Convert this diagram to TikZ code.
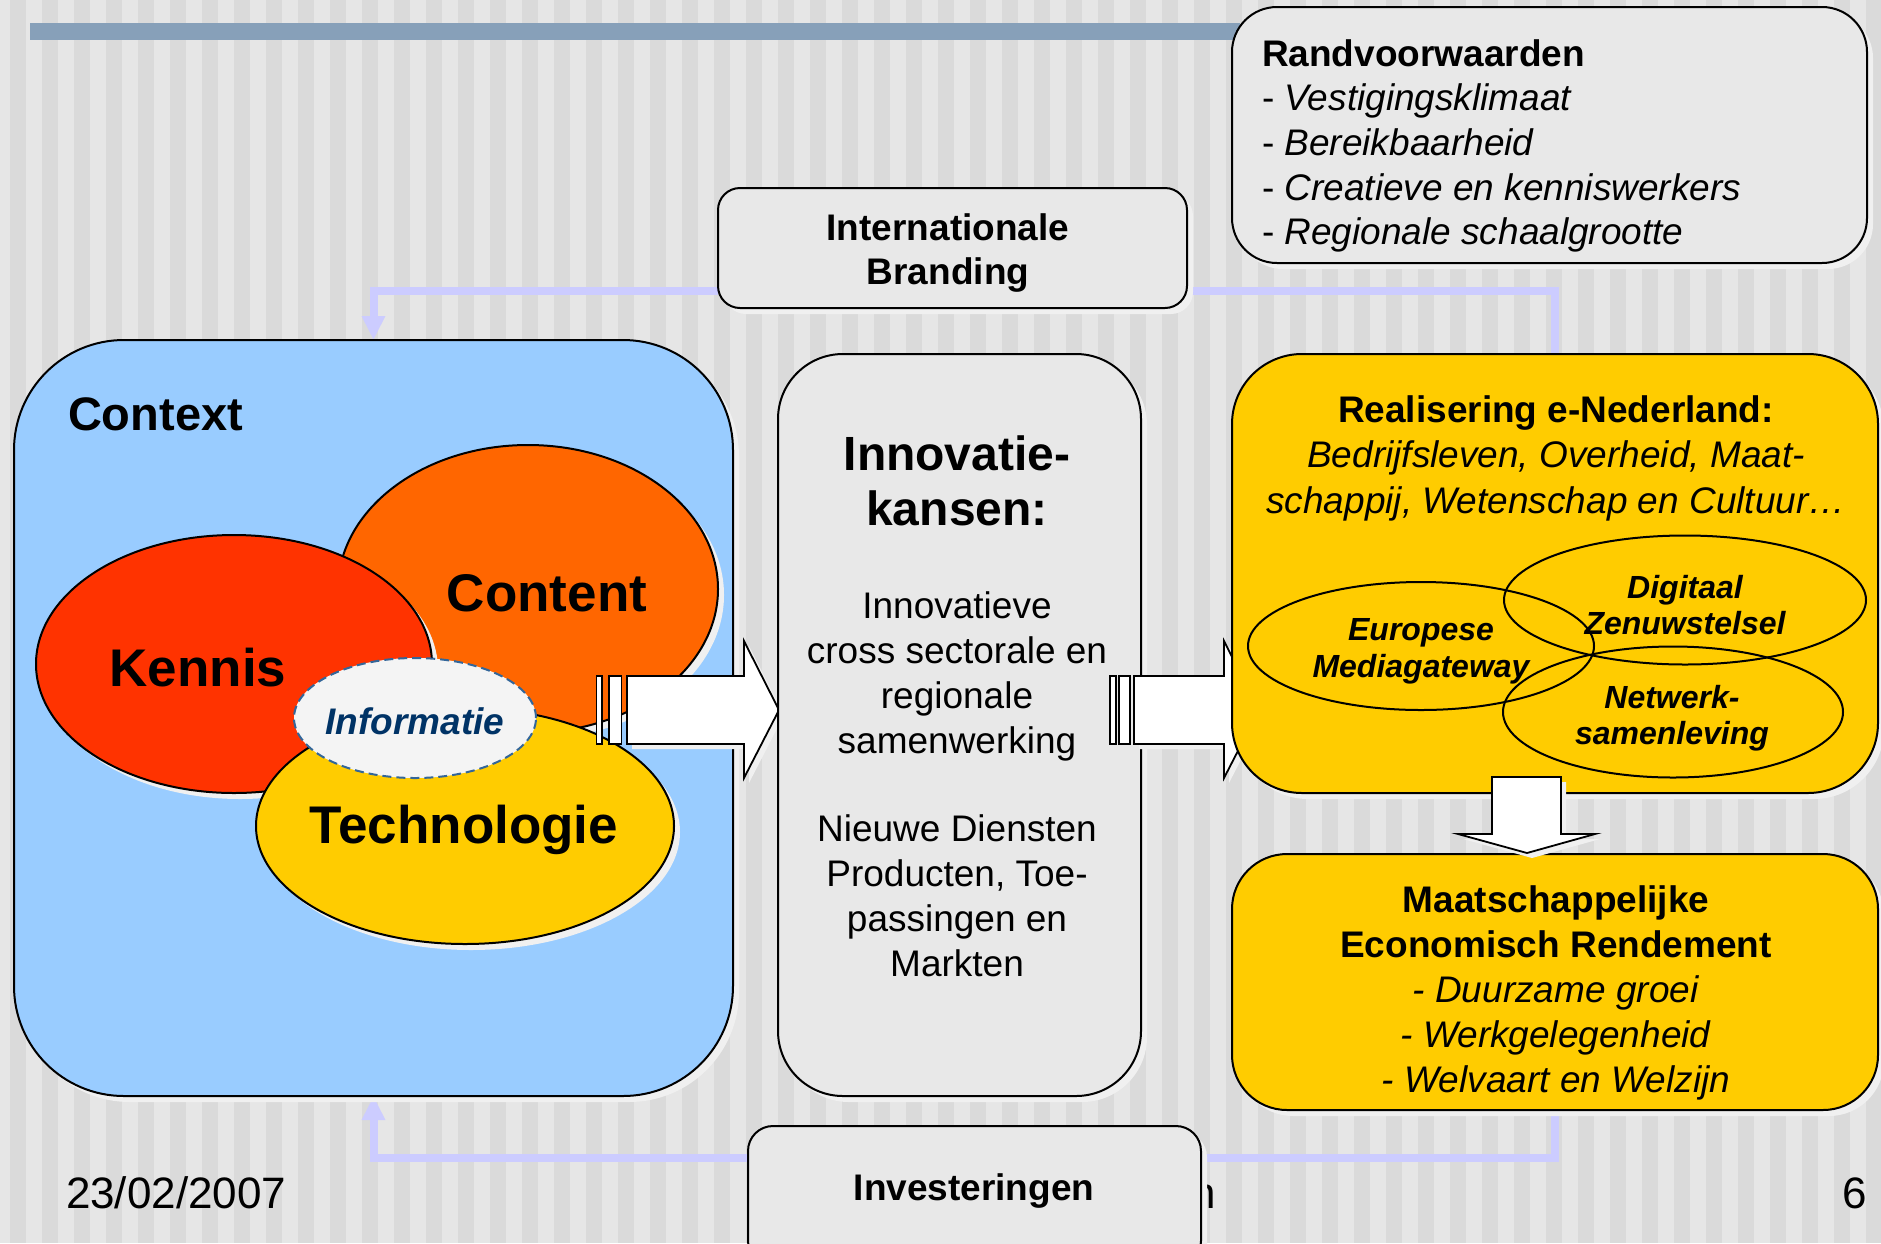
\documentclass[tikz,border=0pt]{standalone}
\usepackage{fontspec}
\setmainfont{Liberation Sans}
\usetikzlibrary{shapes.geometric,shadows,arrows.meta}
\definecolor{bgA}{HTML}{E6E6E6}
\definecolor{bgB}{HTML}{DADADA}
\definecolor{barblue}{HTML}{87A0B9}
\definecolor{boxgray}{HTML}{E8E8E8}
\definecolor{ctxblue}{HTML}{99CCFF}
\definecolor{gold}{HTML}{FFCC00}
\definecolor{orangeC}{HTML}{FF6600}
\definecolor{redK}{HTML}{FF3300}
\definecolor{lav}{HTML}{CCCCFF}
\definecolor{infoblue}{HTML}{003366}
\definecolor{dashblue}{HTML}{336699}
\definecolor{infofill}{HTML}{F4F4F4}
\definecolor{shadowc}{HTML}{F0F0F0}
\newcommand\fs[2]{\fontsize{#1}{#2}\selectfont}
\pgfdeclarelayer{bglayer}
\pgfdeclarelayer{connlayer}
\pgfsetlayers{bglayer,connlayer,main}
\begin{document}
\begin{tikzpicture}[x=1pt,y=-1pt,
  every node/.style={inner sep=0pt, outer sep=0pt},
  box/.style={draw=black, line width=2pt, rectangle},
  shad/.style={drop shadow={shadow xshift=6pt, shadow yshift=-6pt, fill=shadowc, opacity=1}},
  ell/.style={ellipse, draw=black, line width=2pt},
  conn/.style={draw=lav, line width=8pt},
  conntip/.style={-{Triangle[width=22pt,length=24pt,fill=lav]}},
  barrow/.style={draw=black, line width=1.8pt, fill=white, line join=miter},
  ashad/.style={drop shadow={shadow xshift=5pt, shadow yshift=-5pt, fill=shadowc, opacity=1}},
  txt/.style={align=center, text=black}]
\useasboundingbox (0,0) rectangle (1881,1243);
\begin{pgfonlayer}{bglayer}
\fill[bgA] (0,0) rectangle (1881,1243);
\foreach \i in {0,...,58} \fill[bgB] ({\i*32+10},0) rectangle ({\i*32+26},1243);
\fill[barblue] (30,23) rectangle (1240,40);
\end{pgfonlayer}
\coordinate (bt) at (0,291);
\coordinate (bb) at (0,1158);
% boxes
\node[box, shad, fill=boxgray, rounded corners=45pt, minimum width=635pt, minimum height=256pt] (rand) at (1549.5,135) {};
\node[box, shad, fill=boxgray, rounded corners=22pt, minimum width=469pt, minimum height=120pt] (brand) at (952.5,248) {};
\node[box, shad, fill=ctxblue, rounded corners=110pt, minimum width=719pt, minimum height=756pt] (ctx) at (373.5,718) {};
\node[anchor=west, align=left, font=\fs{37}{44.7}] (randtxt) at (1262,146) {\textbf{Randvoorwaarden}\\- \textit{Vestigingsklimaat}\\- \textit{Bereikbaarheid}\\- \textit{Creatieve en kenniswerkers}\\- \textit{Regionale schaalgrootte}};
\node[txt, font=\bfseries\fs{37}{44}] (brandtxt) at (948,253) {Internationale\\Branding};
% context
\node[anchor=west, font=\bfseries\fs{47}{54}] (ctxtxt) at (68,414) {Context};
\node[ell, shad, fill=orangeC, minimum width=380pt, minimum height=288pt] (content) at (528,589) {};
\node[ell, shad, fill=redK, minimum width=396pt, minimum height=258pt] (kennis) at (234,664) {};
\node[ell, shad, fill=gold, minimum width=418pt, minimum height=236pt] (tech) at (465,826) {};
\node[ell, fill=infofill, draw=dashblue, dash pattern=on 9pt off 5pt, minimum width=242pt, minimum height=120pt] (info) at (415,718) {};
\node[font=\bfseries\fs{53}{60}] (kennisL) at (198,668) {Kennis};
\node[font=\bfseries\fs{53}{60}] (contentL) at (547,593) {Content};
\node[font=\bfseries\fs{53}{60}] (techL) at (464,830) {Technologie};
\node[font=\bfseries\itshape\fs{37}{44}, text=infoblue] (infoL) at (415,721) {Informatie};
% block arrow 1
\draw[barrow, ashad] (627,676) -- (744,676) -- (744,641) -- (779,710) -- (744,778) -- (744,744) -- (627,744) -- cycle;
\draw[barrow] (596.5,676) rectangle (602,744);
\draw[barrow] (609,676) rectangle (621.5,744);
% innovatie
\node[box, shad, fill=boxgray, rounded corners=65pt, minimum width=363pt, minimum height=742pt] (inno) at (959.5,725) {};
\node[txt, font=\bfseries\fs{48}{55}] (innotitle) at (957,481) {Innovatie-\\kansen:};
\node[txt, font=\fs{37}{45}] (innob1) at (957,676) {Innovatieve\\cross sectorale en\\regionale\\samenwerking};
\node[txt, font=\fs{37}{45}] (innob2) at (957,896) {Nieuwe Diensten\\Producten, Toe-\\passingen en\\Markten};
% block arrow 2
\draw[barrow, ashad] (1134,676) -- (1224,676) -- (1224,641) -- (1259,710) -- (1224,778) -- (1224,744) -- (1134,744) -- cycle;
\draw[barrow] (1110,676) rectangle (1116,744);
\draw[barrow] (1119,676) rectangle (1130,744);
% realisering
\node[box, shad, fill=gold, rounded corners=70pt, minimum width=646pt, minimum height=439pt] (real) at (1555,573.5) {};
\node[txt, font=\fs{37}{45.5}] (realtxt) at (1556,458) {\textbf{Realisering e-Nederland:}\\\textit{Bedrijfsleven, Overheid, Maat-}\\\textit{schappij, Wetenschap en Cultuur…}};
\node[ell, minimum width=346pt, minimum height=128pt] (euro) at (1421,646) {};
\node[ell, minimum width=362pt, minimum height=129pt] (digi) at (1685,600) {};
\node[ell, minimum width=340pt, minimum height=131pt] (netw) at (1673,712) {};
\node[txt, font=\bfseries\itshape\fs{32}{37}] (eurotxt) at (1421,651) {Europese\\Mediagateway};
\node[txt, font=\bfseries\itshape\fs{32}{36}] (digitxt) at (1685,605) {Digitaal\\Zenuwstelsel};
\node[txt, font=\bfseries\itshape\fs{32}{36}] (netwtxt) at (1672,718) {Netwerk-\\samenleving};
% maatschappelijke
\node[box, shad, fill=gold, rounded corners=55pt, minimum width=646pt, minimum height=256pt] (maat) at (1555,982) {};
\node[txt, font=\fs{37}{45}] (maattxt) at (1556,993) {\textbf{Maatschappelijke}\\\textbf{Economisch Rendement}\\\textit{- Duurzame groei}\\\textit{- Werkgelegenheid}\\\textit{- Welvaart en Welzijn}};
% down arrow
\draw[barrow, ashad] (1492,777) -- (1561,777) -- (1561,834) -- (1595,834) -- (1527,853) -- (1458,834) -- (1492,834) -- cycle;
% footer
\node[anchor=base west, font=\fs{44}{50}] (date) at (66,1208) {23/02/2007};
\node[anchor=base east, font=\fs{44}{50}] (footn) at (1216,1208) {n};
\node[anchor=base, font=\fs{44}{50}] (pageno) at (1855,1208) {6};
% investeringen
\node[box, shad, fill=boxgray, rounded corners=25pt, minimum width=453pt, minimum height=140pt] (inv) at (974.5,1196) {};
\node[font=\bfseries\fs{37}{44}] (invtxt) at (974,1191) {Investeringen};
% connectors
\begin{pgfonlayer}{connlayer}
\draw[conn] (real.north) |- (brand.east |- bt);
\draw[conn, conntip] (brand.west |- bt) -| (ctx.north);
\draw[conn] (maat.south) |- (inv.east |- bb);
\draw[conn, conntip] (inv.west |- bb) -| (ctx.south);
\end{pgfonlayer}
\end{tikzpicture}
\end{document}
